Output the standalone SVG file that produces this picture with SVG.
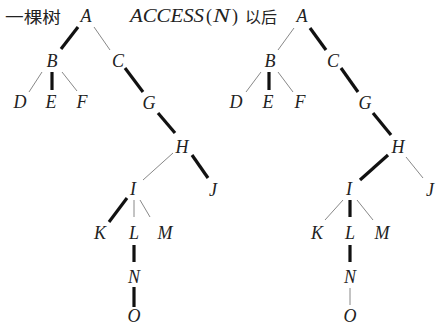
<svg xmlns="http://www.w3.org/2000/svg" width="436" height="326" viewBox="0 0 436 326">
  <style>
    .lbl { font-family: "Liberation Serif", "Noto Serif", "DejaVu Serif", serif; font-style: italic; font-size: 18px; fill: #222; text-anchor: middle; }
    .cap { font-family: "Noto Sans CJK SC", "Noto Sans", sans-serif; font-size: 16px; fill: #222; }
    .math { font-family: "Liberation Serif", "Noto Serif", "DejaVu Serif", serif; font-size: 18px; fill: #222; }
    .thin { stroke: #888; stroke-width: 1; fill: none; }
    .thick { stroke: #111; stroke-width: 3.2; fill: none; stroke-linecap: butt; }
  </style>
  <rect width="436" height="326" fill="#fff"/>

  <!-- captions -->
  <text class="cap" x="5" y="23" textLength="56" lengthAdjust="spacingAndGlyphs">一棵树</text>
  <text class="math" y="22"><tspan x="130" font-style="italic" textLength="74" lengthAdjust="spacingAndGlyphs">ACCESS</tspan><tspan x="206">(</tspan><tspan x="213" font-style="italic" textLength="17" lengthAdjust="spacingAndGlyphs">N</tspan><tspan x="232">)</tspan></text>
  <text class="cap" x="245" y="23" textLength="32" lengthAdjust="spacingAndGlyphs">以后</text>

  <!-- connectors, left tree -->
  <g id="edges-left">
    <line class="thick" x1="78" y1="27" x2="61" y2="49"/>
    <line class="thin" x1="94" y1="27" x2="110" y2="50"/>
    <line class="thin" x1="42" y1="72" x2="29" y2="92"/>
    <line class="thick" x1="52" y1="72" x2="52" y2="90"/>
    <line class="thin" x1="62" y1="72" x2="77" y2="91"/>
    <line class="thick" x1="125" y1="68" x2="143" y2="92"/>
    <line class="thick" x1="158" y1="113" x2="175" y2="133"/>
    <line class="thin" x1="173" y1="153" x2="143" y2="180"/>
    <line class="thick" x1="192" y1="155" x2="208" y2="178"/>
    <line class="thick" x1="127" y1="198" x2="109" y2="222"/>
    <line class="thin" x1="134" y1="200" x2="134" y2="217"/>
    <line class="thin" x1="140" y1="200" x2="150" y2="217"/>
    <line class="thick" x1="134" y1="245" x2="134" y2="262"/>
    <line class="thick" x1="134" y1="287" x2="134" y2="307"/>
  </g>

  <!-- connectors, right tree -->
  <g id="edges-right">
    <line class="thin" x1="294" y1="28" x2="278" y2="50"/>
    <line class="thick" x1="310" y1="28" x2="326" y2="50"/>
    <line class="thin" x1="261" y1="72" x2="246" y2="92"/>
    <line class="thick" x1="269" y1="72" x2="269" y2="90"/>
    <line class="thin" x1="278" y1="72" x2="293" y2="92"/>
    <line class="thick" x1="341" y1="68" x2="358" y2="92"/>
    <line class="thick" x1="373" y1="113" x2="391" y2="135"/>
    <line class="thick" x1="388" y1="155" x2="360" y2="180"/>
    <line class="thin" x1="406" y1="157" x2="423" y2="178"/>
    <line class="thin" x1="343" y1="200" x2="325" y2="220"/>
    <line class="thick" x1="350" y1="200" x2="350" y2="217"/>
    <line class="thin" x1="357" y1="200" x2="373" y2="220"/>
    <line class="thick" x1="350" y1="245" x2="350" y2="262"/>
    <line class="thin" x1="350" y1="288" x2="350" y2="305"/>
  </g>

  <!-- nodes, left tree -->
  <g id="L-A"><text class="lbl" x="86" y="22">A</text></g>
  <g id="L-B"><text class="lbl" x="52" y="67">B</text></g>
  <g id="L-C"><text class="lbl" x="118" y="67">C</text></g>
  <g id="L-D"><text class="lbl" x="20" y="108">D</text></g>
  <g id="L-E"><text class="lbl" x="51" y="108">E</text></g>
  <g id="L-F"><text class="lbl" x="82" y="108">F</text></g>
  <g id="L-G"><text class="lbl" x="149" y="109">G</text></g>
  <g id="L-H"><text class="lbl" x="182" y="153">H</text></g>
  <g id="L-I"><text class="lbl" x="133" y="195">I</text></g>
  <g id="L-J"><text class="lbl" x="213" y="196">J</text></g>
  <g id="L-K"><text class="lbl" x="100" y="239">K</text></g>
  <g id="L-L"><text class="lbl" x="134" y="239">L</text></g>
  <g id="L-M"><text class="lbl" x="165" y="239">M</text></g>
  <g id="L-N"><text class="lbl" x="134" y="283">N</text></g>
  <g id="L-O"><text class="lbl" x="134" y="322">O</text></g>

  <!-- nodes, right tree -->
  <g id="R-A"><text class="lbl" x="302" y="22">A</text></g>
  <g id="R-B"><text class="lbl" x="270" y="67">B</text></g>
  <g id="R-C"><text class="lbl" x="333" y="67">C</text></g>
  <g id="R-D"><text class="lbl" x="236" y="108">D</text></g>
  <g id="R-E"><text class="lbl" x="268" y="108">E</text></g>
  <g id="R-F"><text class="lbl" x="300" y="108">F</text></g>
  <g id="R-G"><text class="lbl" x="365" y="109">G</text></g>
  <g id="R-H"><text class="lbl" x="398" y="153">H</text></g>
  <g id="R-I"><text class="lbl" x="349" y="195">I</text></g>
  <g id="R-J"><text class="lbl" x="430" y="196">J</text></g>
  <g id="R-K"><text class="lbl" x="317" y="239">K</text></g>
  <g id="R-L"><text class="lbl" x="350" y="239">L</text></g>
  <g id="R-M"><text class="lbl" x="382" y="239">M</text></g>
  <g id="R-N"><text class="lbl" x="350" y="283">N</text></g>
  <g id="R-O"><text class="lbl" x="350" y="322">O</text></g>
</svg>
